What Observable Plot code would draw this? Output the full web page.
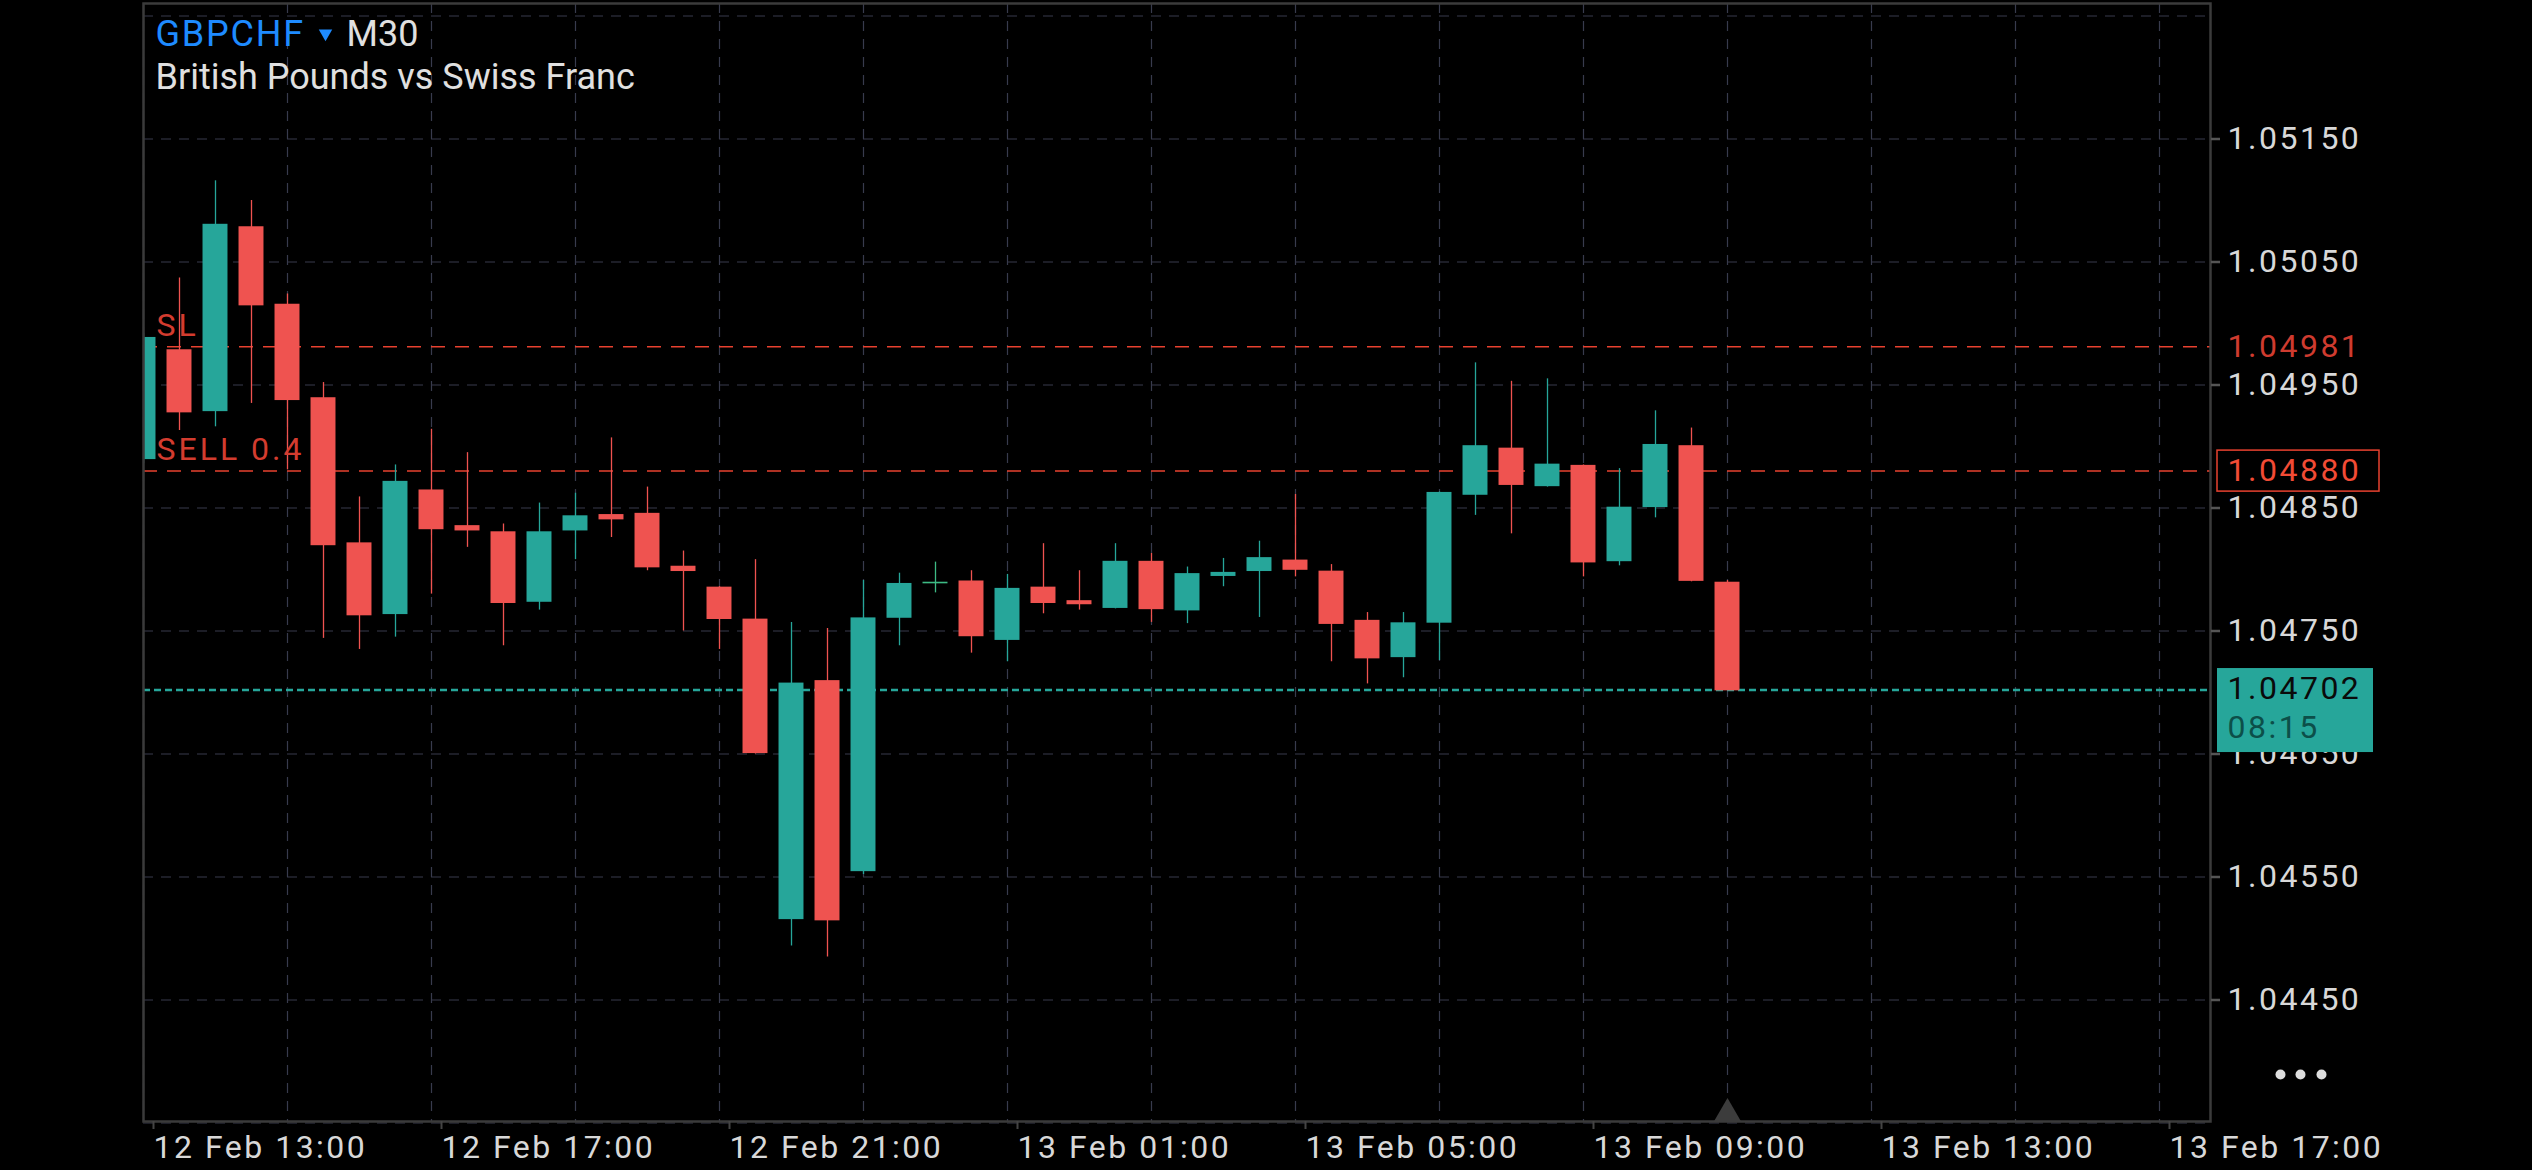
<!DOCTYPE html>
<html>
<head>
<meta charset="utf-8">
<script src="https://cdn.jsdelivr.net/npm/d3@7"></script>
<script src="https://cdn.jsdelivr.net/npm/@observablehq/plot@0.6"></script>
<style>
  html, body { margin: 0; padding: 0; background: #000; }
  #chart svg { display: block; }
  g[aria-label="y-axis tick label"] text,
  g[aria-label="x-axis tick label"] text,
  g[aria-description="price-label"] text { letter-spacing: 2.5px; }
  g[aria-description="level-label"] text { letter-spacing: 3px; }
  g[aria-description="symbol"] text { letter-spacing: 1.8px; }
</style>
</head>
<body>
<div id="chart"></div>
<script>
// ---------- data ----------
const symbol = "GBPCHF";
const timeframe = "M30";
const description = "British Pounds vs Swiss Franc";

const times = [
  "2025-02-12T13:00Z","2025-02-12T13:30Z","2025-02-12T14:00Z","2025-02-12T14:30Z","2025-02-12T15:00Z",
  "2025-02-12T15:30Z","2025-02-12T16:00Z","2025-02-12T16:30Z","2025-02-12T17:00Z","2025-02-12T17:30Z",
  "2025-02-12T18:00Z","2025-02-12T18:30Z","2025-02-12T19:00Z","2025-02-12T19:30Z","2025-02-12T20:00Z",
  "2025-02-12T20:30Z","2025-02-12T21:00Z","2025-02-12T21:30Z","2025-02-12T22:00Z","2025-02-12T22:30Z",
  "2025-02-12T23:00Z","2025-02-12T23:30Z","2025-02-13T00:00Z","2025-02-13T00:30Z","2025-02-13T01:00Z",
  "2025-02-13T01:30Z","2025-02-13T02:00Z","2025-02-13T02:30Z","2025-02-13T03:00Z","2025-02-13T03:30Z",
  "2025-02-13T04:00Z","2025-02-13T04:30Z","2025-02-13T05:00Z","2025-02-13T05:30Z","2025-02-13T06:00Z",
  "2025-02-13T06:30Z","2025-02-13T07:00Z","2025-02-13T07:30Z","2025-02-13T08:00Z","2025-02-13T08:30Z",
  "2025-02-13T09:00Z","2025-02-13T09:30Z","2025-02-13T10:00Z","2025-02-13T10:30Z","2025-02-13T11:00Z"
];
const open = [
  1.04890,1.04978,1.04929,1.05078,1.05015,1.04939,1.04821,1.04764,1.04864,1.04835,
  1.04830,1.04774,1.04832,1.04844,1.04845,1.04802,1.04785,1.04759,1.04516,1.04709,
  1.04555,1.04761,1.04789,1.04790,1.04743,1.04785,1.04774,1.04769,1.04806,1.04767,
  1.04795,1.04799,1.04807,1.04798,1.04758,1.04729,1.04757,1.04861,1.04898,1.04868,
  1.04884,1.04807,1.04851,1.04900,1.04789
];
const high = [
  1.04992,1.05037,1.05116,1.05100,1.05024,1.04952,1.04859,1.04885,1.04914,1.04895,
  1.04837,1.04854,1.04862,1.04907,1.04867,1.04815,1.04786,1.04808,1.04757,1.04752,
  1.04791,1.04797,1.04806,1.04799,1.04796,1.04821,1.04799,1.04821,1.04813,1.04802,
  1.04809,1.04823,1.04861,1.04804,1.04765,1.04765,1.04863,1.04968,1.04953,1.04955,
  1.04885,1.04882,1.04929,1.04915,1.04791
];
const low = [
  1.04886,1.04913,1.04916,1.04935,1.04881,1.04744,1.04735,1.04745,1.04780,1.04818,
  1.04738,1.04767,1.04808,1.04826,1.04799,1.04750,1.04735,1.04650,1.04494,1.04485,
  1.04552,1.04738,1.04781,1.04732,1.04725,1.04764,1.04767,1.04768,1.04757,1.04756,
  1.04786,1.04761,1.04794,1.04725,1.04707,1.04712,1.04726,1.04844,1.04829,1.04867,
  1.04794,1.04803,1.04842,1.04790,1.04702
];
const close = [
  1.04988,1.04928,1.05080,1.05015,1.04938,1.04820,1.04763,1.04871,1.04833,1.04832,
  1.04773,1.04830,1.04843,1.04841,1.04802,1.04799,1.04760,1.04651,1.04707,1.04515,
  1.04760,1.04788,1.04789,1.04746,1.04784,1.04773,1.04772,1.04806,1.04768,1.04796,
  1.04797,1.04809,1.04800,1.04756,1.04728,1.04756,1.04862,1.04900,1.04869,1.04885,
  1.04806,1.04850,1.04901,1.04791,1.04702
];

const yTicks = [1.0445, 1.0455, 1.0465, 1.0475, 1.0485, 1.0495, 1.0505, 1.0515];
const yGrid  = [1.0435, 1.0445, 1.0455, 1.0465, 1.0475, 1.0485, 1.0495, 1.0505, 1.0515, 1.0525];
const xTicks = ["2025-02-12T13:00Z","2025-02-12T17:00Z","2025-02-12T21:00Z","2025-02-13T01:00Z",
                "2025-02-13T05:00Z","2025-02-13T09:00Z","2025-02-13T13:00Z","2025-02-13T17:00Z"];
const xDomain = ["2025-02-12T13:00Z", "2025-02-13T17:42:30Z"];
const yDomain = [1.0435122, 1.0526016];

const levelNames  = ["SL", "SELL 0.4"];
const levelPrices = [1.04981, 1.04880];
const currentPrice = 1.04702;
const countdown = "08:15";

// ---------- styles ----------
const TEAL = "#26a69a", RED = "#ef5350", DOJI = "#3dba84";
const LEVEL = "#e8412f", GRID = "#383b4d", AXIS_TEXT = "#d8d8d8", FRAME = "#3b3b3b";
const BODY_HALF_MS = 10.4 * 60 * 1000;

const candles = times.map((t, i) => ({t: new Date(t), o: open[i], h: high[i], l: low[i], c: close[i]}));
const colorOf = d => d.c > d.o ? TEAL : d.c < d.o ? RED : DOJI;
const levels = levelNames.map((n, i) => ({name: n, price: levelPrices[i]}));
const fmt = d3.format(".5f");
const xStart = new Date(xDomain[0]), xEnd = new Date(xDomain[1]);

function priceBoxes(index, scales, values, dims) {
  const g = d3.create("svg:g");
  const x0 = dims.width - dims.marginRight + 7;
  const yE = scales.y(levelPrices[1]);
  g.append("rect").attr("x", x0).attr("y", yE - 20.5).attr("width", 162).attr("height", 41)
    .attr("fill", "none").attr("stroke", LEVEL).attr("stroke-width", 1.5);
  const yC = scales.y(currentPrice);
  g.append("rect").attr("x", x0).attr("y", yC - 21.5).attr("width", 156).attr("height", 84)
    .attr("fill", TEAL);
  return g.node();
}

const chart = Plot.plot({
  width: 2532,
  height: 1170,
  marginLeft: 143,
  marginRight: 322,
  marginTop: 3,
  marginBottom: 49,
  style: {background: "#000", color: AXIS_TEXT, fontFamily: "Roboto, 'Noto Sans', sans-serif", fontSize: "32px"},
  x: {type: "utc", domain: [xStart, xEnd], label: null},
  y: {domain: yDomain, label: null},
  color: {type: "identity"},
  marks: [
    Plot.gridX(d3.utcHour.range(xStart, xEnd, 2), {stroke: GRID, strokeOpacity: 1, strokeWidth: 1.2, strokeDasharray: "10,8"}),
    Plot.gridY(yGrid, {stroke: GRID, strokeOpacity: 1, strokeWidth: 1.2, strokeDasharray: "10,8"}),
    Plot.ruleY(levelPrices, {stroke: LEVEL, strokeWidth: 1.5, strokeDasharray: "14,10"}),
    Plot.ruleY([currentPrice], {stroke: TEAL, strokeWidth: 2.5, strokeDasharray: "7,4"}),
    Plot.ruleX(candles, {x: "t", y1: "l", y2: "h", stroke: colorOf, strokeWidth: 1.3, clip: true}),
    Plot.rect(candles, {
      x1: d => new Date(+d.t - BODY_HALF_MS), x2: d => new Date(+d.t + BODY_HALF_MS),
      y1: "o", y2: "c", fill: colorOf, insetTop: -0.8, insetBottom: -0.8, clip: true
    }),
    Plot.text(levels, {y: "price", text: "name", frameAnchor: "left", textAnchor: "start", lineAnchor: "top",
      dx: 13, dy: -33.5, fill: "#d33c2f", fontSize: 32, ariaDescription: "level-label"}),
    Plot.dot(candles.slice(-1), {x: "t", frameAnchor: "bottom", symbol: "triangle", r: 10, dy: -8, fill: "#3c3c3c", stroke: null}),
    Plot.frame({stroke: FRAME, strokeWidth: 2.5}),
    Plot.axisX(xTicks.map(d => new Date(d)), {anchor: "bottom", tickSize: 8, tickPadding: 6, textAnchor: "start", dx: 10,
      tickFormat: d3.utcFormat("%-d %b %H:%M"), stroke: "#444", strokeWidth: 2, fill: AXIS_TEXT, label: null}),
    Plot.axisY(yTicks, {anchor: "right", tickSize: 9, tickPadding: 8, tickFormat: fmt,
      stroke: "#555", strokeWidth: 2.5, fill: AXIS_TEXT, label: null}),
    priceBoxes,
    Plot.text([levelPrices[0]], {y: d => d, text: fmt, frameAnchor: "right", textAnchor: "start", dx: 17,
      fill: "#cf3b2f", fontSize: 32, ariaDescription: "price-label"}),
    Plot.text([levelPrices[1]], {y: d => d, text: fmt, frameAnchor: "right", textAnchor: "start", dx: 17,
      fill: "#f24b35", fontSize: 32, ariaDescription: "price-label"}),
    Plot.text([currentPrice], {y: d => d, text: fmt, frameAnchor: "right", textAnchor: "start", dx: 17, dy: -1,
      fill: "#0a0a0a", fontSize: 32, ariaDescription: "price-label"}),
    Plot.text([currentPrice], {y: d => d, text: () => countdown, frameAnchor: "right", textAnchor: "start", dx: 17, dy: 37.5,
      fill: "#0c4f49", fontSize: 32, ariaDescription: "price-label"}),
    // title block
    Plot.text([symbol], {text: d => d, frameAnchor: "top-left", textAnchor: "start", lineAnchor: "top",
      dx: 12, dy: 17, fill: "#1e8bff", fontSize: 36, ariaDescription: "symbol"}),
    Plot.dot([0], {frameAnchor: "top-left", dx: 182, dy: 30, symbol: "triangle", r: 5, rotate: 180, fill: "#1e8bff", stroke: null}),
    Plot.text([timeframe], {text: d => d, frameAnchor: "top-left", textAnchor: "start", lineAnchor: "top",
      dx: 203, dy: 17, fill: "#e0e0e0", fontSize: 36}),
    Plot.text([description], {text: d => d, frameAnchor: "top-left", textAnchor: "start", lineAnchor: "top",
      dx: 12, dy: 60, fill: "#e0e0e0", fontSize: 36}),
    // menu dots
    ...[70, 90, 111].map(dx => Plot.dot([0], {frameAnchor: "bottom-right", dx, dy: -47, r: 5, fill: "#dedede", stroke: null}))
  ]
});

document.getElementById("chart").appendChild(chart);
</script>
</body>
</html>
